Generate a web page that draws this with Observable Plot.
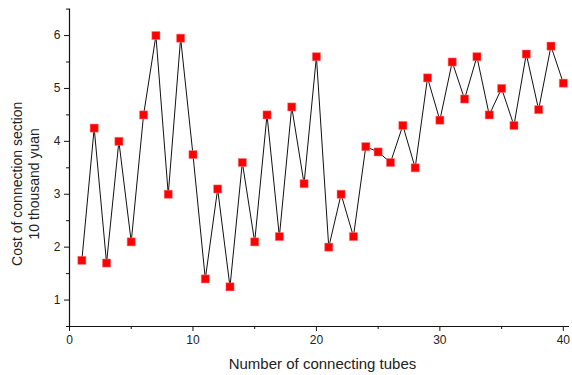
<!DOCTYPE html>
<html>
<head>
<meta charset="utf-8">
<script src="https://cdn.jsdelivr.net/npm/d3@7"></script>
<script src="https://cdn.jsdelivr.net/npm/@observablehq/plot@0.6"></script>
<style>
  html, body { margin: 0; padding: 0; background: #fff; }
  #chart svg { display: block; }
</style>
</head>
<body>
<div id="chart"></div>
<script>
const tubes = [1,2,3,4,5,6,7,8,9,10,11,12,13,14,15,16,17,18,19,20,21,22,23,24,25,26,27,28,29,30,31,32,33,34,35,36,37,38,39,40];
const costs = [1.75,4.25,1.7,4.0,2.1,4.5,6.0,3.0,5.95,3.75,1.4,3.1,1.25,3.6,2.1,4.5,2.2,4.65,3.2,5.6,2.0,3.0,2.2,3.9,3.8,3.6,4.3,3.5,5.2,4.4,5.5,4.8,5.6,4.5,5.0,4.3,5.65,4.6,5.8,5.1];
const xMajorTicks = [0,10,20,30,40];
const xMinorTicks = [5,15,25,35];
const yMajorTicks = [1,2,3,4,5,6];
const yMinorTicks = [0.5,1.5,2.5,3.5,4.5,5.5,6.5];
const xTitle = "Number of connecting tubes";
const yTitleLines = ["Cost of connection section", "10 thousand yuan"];

const data = tubes.map((t, i) => ({tube: t, cost: costs[i]}));
const font = "Liberation Sans, Arial, sans-serif";

const chart = Plot.plot({
  width: 572,
  height: 375,
  marginLeft: 69,
  marginRight: 3,
  marginTop: 8.6,
  marginBottom: 49,
  style: {fontFamily: font, fontSize: "12px", color: "#222", background: "#fff"},
  x: {domain: [0, 40.5]},
  y: {domain: [0.5, 6.5]},
  marks: [
    Plot.ruleY([0.5], {stroke: "#111", strokeWidth: 1.2}),
    Plot.ruleX([0], {stroke: "#111", strokeWidth: 1.2}),
    Plot.axisX({ticks: xMinorTicks, tickSize: 3, text: null, label: null, stroke: "#111"}),
    Plot.axisX({ticks: xMajorTicks, tickSize: 5, tickPadding: 4, tickFormat: d => String(d), label: null, stroke: "#111", fill: "#222", fontSize: 12}),
    Plot.axisY({ticks: yMinorTicks, tickSize: 3, text: null, label: null, stroke: "#111"}),
    Plot.axisY({ticks: yMajorTicks, tickSize: 5, tickPadding: 4, tickFormat: d => String(d), label: null, stroke: "#111", fill: "#222", fontSize: 12}),
    Plot.line(data, {x: "tube", y: "cost", stroke: "#111", strokeWidth: 1}),
    Plot.dot(data, {x: "tube", y: "cost", symbol: "square", r: 4.6, fill: "#ff0000", stroke: "#ff8080", strokeWidth: 0.5}),
    Plot.text([xTitle], {frameAnchor: "bottom", dx: 3, dy: 38, fontSize: 15, fill: "#222", lineAnchor: "middle"}),
    Plot.text([yTitleLines[0]], {frameAnchor: "left", dx: -52, dy: 16, rotate: -90, textAnchor: "middle", lineAnchor: "middle", fontSize: 14, fill: "#222"}),
    Plot.text([yTitleLines[1]], {frameAnchor: "left", dx: -35, dy: 16, rotate: -90, textAnchor: "middle", lineAnchor: "middle", fontSize: 14, fill: "#222"})
  ]
});
document.getElementById("chart").append(chart);
</script>
</body>
</html>
